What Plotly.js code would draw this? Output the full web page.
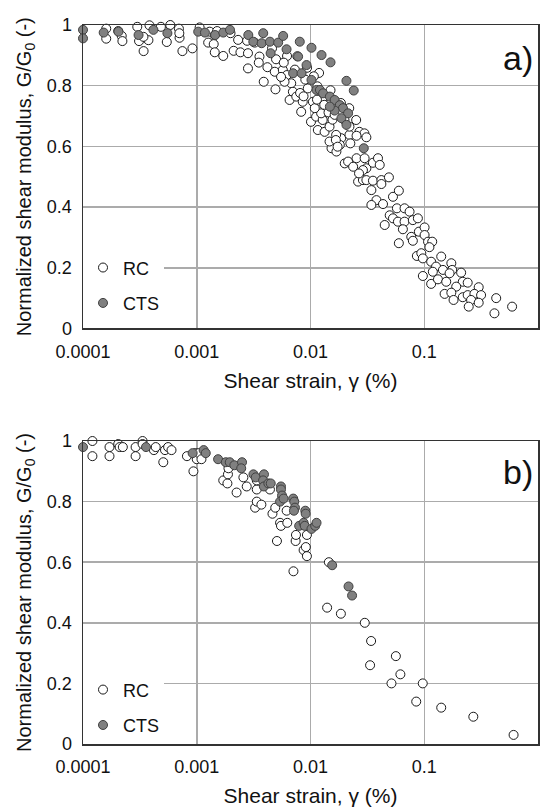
<!DOCTYPE html>
<html>
<head>
<meta charset="utf-8">
<script src="https://cdn.plot.ly/plotly-3.0.1.min.js"></script>
<style>html,body{margin:0;padding:0;background:#fff;}#chart{width:541px;height:810px;}</style>
</head>
<body>
<div id="chart"></div>
<script>
// ---------- data ----------
const seriesNames = ['RC', 'CTS'];
const xTickVals = [0.0001, 0.001, 0.01, 0.1, 1];
const xTickText = ['0.0001', '0.001', '0.01', '0.1', '1'];
const yTickVals = [0, 0.2, 0.4, 0.6, 0.8, 1];
const yTickText = ['0', '0.2', '0.4', '0.6', '0.8', '1'];
const panelLabels = ['a)', 'b)'];

// panel a) RC
const rcA_strain = [
1.6e-4,1.6e-4,2.04e-4,2.19e-4,2.22e-4,3.0e-4,3.11e-4,3.41e-4,3.76e-4,3.84e-4,4.84e-4,5.45e-4,5.85e-4,6.97e-4,7.06e-4,7.48e-4,3.4e-4,7.03e-4,
9.16e-4,1.06e-3,1.26e-3,1.30e-3,1.44e-3,1.41e-3,1.44e-3,1.71e-3,1.98e-3,2.11e-3,2.31e-3,2.42e-3,2.77e-3,2.82e-3,2.82e-3,3.23e-3,3.56e-3,3.51e-3,3.88e-3,4.18e-3,4.59e-3,4.85e-3,4.92e-3,4.98e-3,
5.71e-3,6.2e-3,6.77e-3,5.91e-3,7.0e-3,6.55e-3,7.5e-3,8.55e-3,8.28e-3,1.05e-2,9.46e-3,1.01e-2,1.12e-2,1.16e-2,1.33e-2,1.28e-2,1.24e-2,1.47e-2,1.86e-2,1.68e-2,2.2e-2,2.52e-2,2.69e-2,2.98e-2,2.2e-2,1.99e-2,1.68e-2,
1.53e-2,1.69e-2,1.81e-2,2.0e-2,2.14e-2,2.37e-2,2.54e-2,2.99e-2,3.1e-2,2.89e-2,3.54e-2,3.92e-2,4.06e-2,2.62e-2,2.89e-2,3.1e-2,3.54e-2,4.2e-2,4.2e-2,4.89e-2,3.43e-2,5.31e-2,5.98e-2,3.8e-2,3.43e-2,4.34e-2,5.75e-2,6.71e-2,7.43e-2,4.97e-2,5.31e-2,5.87e-2,6.71e-2,7.94e-2,8.79e-2,
4.49e-2,6.49e-2,7.69e-2,7.94e-2,5.98e-2,8.97e-2,0.1007,0.1007,0.108,0.1175,0.111,8.61e-2,9.42e-2,9.72e-2,0.141,0.115,0.127,0.119,0.146,0.173,0.176,0.167,9.72e-2,0.115,0.132,0.156,0.211,0.218,0.241,0.191,0.151,0.173,0.181,0.218,0.241,0.301,0.276,0.316,0.258,0.301,0.246,0.429,0.592,0.414,
8.1e-3,1.09e-2,1.14e-2,1.15e-2,1.19e-2,1.32e-2,1.44e-2,1.47e-2,1.5e-2,1.52e-2,1.56e-2,1.63e-2,1.67e-2,1.73e-2,1.85e-2,2.19e-2,2.24e-2,2.54e-2,3.1e-2,2.67e-2,
5.51e-3,7.29e-3,7.66e-3,8.69e-3,9.0e-3,9.33e-3,1.07e-2,6.22e-3,5.82e-3,1.51e-3
];
const rcA_ratio = [
0.988,0.955,0.98,0.964,0.947,0.994,0.947,0.914,0.95,0.999,0.994,0.944,1.0,0.988,0.958,0.914,0.961,0.973,
0.923,0.992,0.942,0.978,0.967,0.937,0.91,0.898,0.973,0.915,0.951,0.91,0.948,0.907,0.857,0.942,0.896,0.876,0.813,0.861,0.923,0.846,0.788,0.887,
0.852,0.835,0.808,0.813,0.78,0.753,0.764,0.747,0.714,0.747,0.791,0.681,0.698,0.654,0.648,0.687,0.709,0.665,0.627,0.638,0.638,0.687,0.648,0.643,0.665,0.687,0.731,
0.594,0.583,0.605,0.544,0.55,0.533,0.561,0.561,0.528,0.522,0.546,0.561,0.539,0.484,0.489,0.489,0.487,0.489,0.476,0.498,0.456,0.434,0.454,0.423,0.407,0.41,0.396,0.396,0.385,0.373,0.363,0.352,0.352,0.357,0.363,
0.341,0.327,0.302,0.289,0.281,0.319,0.333,0.308,0.286,0.286,0.268,0.239,0.248,0.231,0.237,0.22,0.204,0.187,0.193,0.215,0.193,0.182,0.173,0.147,0.162,0.154,0.184,0.154,0.151,0.138,0.114,0.118,0.094,0.103,0.11,0.136,0.114,0.11,0.094,0.085,0.072,0.1,0.072,0.05,
0.776,0.726,0.754,0.798,0.842,0.737,0.712,0.616,0.785,0.754,0.688,0.704,0.621,0.599,0.743,0.726,0.61,0.635,0.63,0.511,
0.829,0.853,0.897,0.765,0.82,0.859,0.831,0.898,0.876,0.98
];

// panel a) CTS
const ctsA_strain = [
1.0e-4,1.0e-4,1.52e-4,2.05e-4,3.08e-4,4.16e-4,5.52e-4,1.03e-3,1.18e-3,1.45e-3,
1.71e-3,1.96e-3,2.84e-3,3.14e-3,3.84e-3,3.72e-3,4.4e-3,4.46e-3,5.2e-3,5.75e-3,
6.16e-3,8.05e-3,7.78e-3,1.02e-2,1.25e-2,1.5e-2,2.07e-2,2.4e-2,7.03e-3,8.34e-3,
9.23e-3,1.02e-2,1.13e-2,1.21e-2,1.29e-2,1.48e-2,1.63e-2,1.81e-2,1.93e-2,2.14e-2,
1.87e-2,2.07e-2,1.63e-2,1.48e-2,2.94e-2
];
const ctsA_ratio = [
0.984,0.956,0.975,0.978,0.967,0.984,0.973,0.978,0.975,0.967,
0.975,0.984,0.967,0.945,0.973,0.94,0.945,0.907,0.942,0.964,
0.92,0.945,0.896,0.925,0.901,0.877,0.816,0.784,0.841,0.841,
0.868,0.819,0.786,0.786,0.775,0.764,0.753,0.736,0.726,0.709,
0.693,0.671,0.718,0.731,0.594
];

// panel b) RC
const rcB_strain = [
1.21e-4,1.21e-4,1.71e-4,1.71e-4,2.04e-4,2.1e-4,2.24e-4,2.9e-4,2.9e-4,3.34e-4,
3.34e-4,4.2e-4,4.36e-4,5.08e-4,5.26e-4,5.6e-4,6.0e-4,8.2e-4,9.35e-4,9.7e-4,
1.0e-3,1.04e-3,1.1e-3,1.71e-3,1.86e-3,1.88e-3,1.9e-3,2.24e-3,2.57e-3,2.75e-3,
3.26e-3,3.37e-3,3.37e-3,3.37e-3,3.7e-3,4.4e-3,4.63e-3,4.9e-3,5.07e-3,5.4e-3,
5.5e-3,6.25e-3,6.17e-3,7.08e-3,7.4e-3,7.45e-3,8.7e-3,9.1e-3,9.3e-3,9.3e-3,
1.4e-2,1.45e-2,1.85e-2,3.0e-2,3.41e-2,3.34e-2,5.15e-2,5.63e-2,6.17e-2,8.5e-2,
9.7e-2,0.141,0.27,0.61
];
const rcB_ratio = [
1.0,0.95,0.98,0.95,0.99,0.98,0.98,0.98,0.95,1.0,
0.99,0.97,0.98,0.93,0.97,0.98,0.97,0.95,0.90,0.96,
0.94,0.96,0.94,0.87,0.86,0.89,0.91,0.83,0.88,0.85,
0.78,0.80,0.84,0.87,0.79,0.84,0.76,0.78,0.67,0.73,
0.72,0.73,0.77,0.57,0.67,0.69,0.64,0.65,0.62,0.69,
0.45,0.60,0.43,0.40,0.34,0.26,0.20,0.29,0.23,0.14,
0.20,0.12,0.09,0.03
];

// panel b) CTS
const ctsB_strain = [
1.0e-4,3.58e-4,1.15e-3,1.2e-3,9.2e-4,1.54e-3,1.8e-3,1.95e-3,2.14e-3,2.5e-3,
2.46e-3,3.15e-3,3.3e-3,3.9e-3,3.83e-3,3.89e-3,4.26e-3,4.47e-3,5.5e-3,5.5e-3,
5.62e-3,5.4e-3,5.8e-3,7.05e-3,7.2e-3,7.3e-3,7.15e-3,9.0e-3,9.07e-3,7.95e-3,
8.7e-3,8.9e-3,1.02e-2,1.1e-2,1.13e-2,1.55e-2,2.16e-2,2.32e-2
];
const ctsB_ratio = [
0.98,0.98,0.97,0.96,0.96,0.94,0.93,0.93,0.92,0.93,
0.91,0.89,0.88,0.89,0.87,0.85,0.86,0.86,0.85,0.84,
0.82,0.80,0.81,0.81,0.80,0.78,0.77,0.77,0.76,0.72,
0.73,0.72,0.71,0.72,0.73,0.59,0.52,0.49
];

// ---------- styling ----------
const FONT = '"Liberation Sans", Arial, Helvetica, sans-serif';
const rcMarker = {symbol:'circle', size:9, color:'#ffffff', line:{color:'#1a1a1a', width:1}};
const ctsMarker = {symbol:'circle', size:9, color:'#808080', line:{color:'#404040', width:1}};

function pts(x, y, name, marker, xa, ya, leg, grp) {
  return {type:'scatter', mode:'markers', x:x, y:y, name:name, marker:marker,
          xaxis:xa, yaxis:ya, legend:leg, legendgroup:grp, cliponaxis:false, hoverinfo:'x+y'};
}

const traces = [
  pts(rcA_strain, rcA_ratio, seriesNames[0], rcMarker, 'x', 'y', 'legend', 'a1'),
  pts(ctsA_strain, ctsA_ratio, seriesNames[1], ctsMarker, 'x', 'y', 'legend', 'a2'),
  pts(rcB_strain, rcB_ratio, seriesNames[0], rcMarker, 'x2', 'y2', 'legend2', 'b1'),
  pts(ctsB_strain, ctsB_ratio, seriesNames[1], ctsMarker, 'x2', 'y2', 'legend2', 'b2')
];

function xAxis(anchor) {
  return {type:'log', range:[-4, 0], anchor:anchor, domain:[0,1],
    tickvals:xTickVals, ticktext:xTickText, ticks:'outside', ticklen:6, tickcolor:'rgba(0,0,0,0)',
    showgrid:true, gridcolor:'#ababab', gridwidth:1.5, zeroline:false,
    showline:true, mirror:true, linecolor:'#333333', linewidth:1.5,
    tickfont:{size:18, family:FONT, color:'#111'},
    title:{text:'Shear strain, \u03b3 (%)', font:{size:21, family:FONT, color:'#111'}, standoff:12}};
}
function yAxis(anchor, dom) {
  return {range:[0, 1], anchor:anchor, domain:dom,
    tickvals:yTickVals, ticktext:yTickText, ticks:'outside', ticklen:6, tickcolor:'rgba(0,0,0,0)',
    showgrid:true, gridcolor:'#ababab', gridwidth:1.5, zeroline:false,
    showline:true, mirror:true, linecolor:'#333333', linewidth:1.5,
    tickfont:{size:18, family:FONT, color:'#111'},
    title:{text:'Normalized shear modulus, G/G<sub>0</sub> (-)', font:{size:20, family:FONT, color:'#111'}, standoff:10}};
}

const legendBase = {xref:'paper', yref:'paper', xanchor:'left', yanchor:'top', bgcolor:'#ffffff',
  borderwidth:0, font:{size:18, family:FONT, color:'#111'}, tracegroupgap:9, itemclick:false};

const layout = {
  width:541, height:810,
  margin:{l:83, r:3, t:25, b:66},
  paper_bgcolor:'#ffffff', plot_bgcolor:'#ffffff',
  font:{family:FONT, size:18, color:'#111'},
  showlegend:true,
  xaxis:xAxis('y'),
  yaxis:yAxis('x', [0.5779, 1]),
  xaxis2:xAxis('y2'),
  yaxis2:yAxis('x2', [0, 0.4214]),
  legend:Object.assign({}, legendBase, {x:0.0, y:0.688}),
  legend2:Object.assign({}, legendBase, {x:0.0, y:0.101}),
  annotations:[
    {text:panelLabels[0], xref:'paper', yref:'paper', x:0.955, y:0.954, xanchor:'center', yanchor:'middle',
     showarrow:false, font:{size:34, family:FONT, color:'#111'}},
    {text:panelLabels[1], xref:'paper', yref:'paper', x:0.955, y:0.378, xanchor:'center', yanchor:'middle',
     showarrow:false, font:{size:34, family:FONT, color:'#111'}}
  ]
};

Plotly.newPlot('chart', traces, layout, {staticPlot:true, displayModeBar:false});
</script>
</body>
</html>
